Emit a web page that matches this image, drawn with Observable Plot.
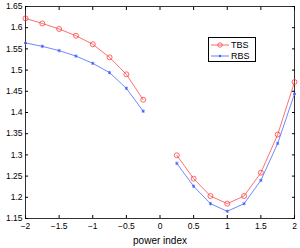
<!DOCTYPE html>
<html>
<head>
<meta charset="utf-8">
<script src="https://cdn.jsdelivr.net/npm/d3@7"></script>
<script src="https://cdn.jsdelivr.net/npm/@observablehq/plot@0.6"></script>
<style>
  body { margin: 0; background: #fff; }
  #wrap { position: relative; width: 300px; height: 248px; font-family: "Liberation Sans", Arial, sans-serif; }
  #legend { position: absolute; left: 208px; top: 37px; width: 48px; height: 25px; border: 1px solid #000; background: #fff; box-sizing: border-box; font-size: 9px; padding-top: 1px; }
  #legend div { display: flex; align-items: center; height: 11px; padding-left: 2px; }
  #legend svg { margin-right: 2px; }
</style>
</head>
<body>
<div id="wrap"></div>
<script>
const powerIndexLeft = [-2, -1.75, -1.5, -1.25, -1, -0.75, -0.5, -0.25];
const tbsLeft = [1.622, 1.610, 1.597, 1.581, 1.561, 1.530, 1.490, 1.430];
const rbsLeft = [1.564, 1.556, 1.546, 1.533, 1.516, 1.494, 1.457, 1.403];
const powerIndexRight = [0.25, 0.5, 0.75, 1, 1.25, 1.5, 1.75, 2];
const tbsRight = [1.299, 1.244, 1.203, 1.185, 1.203, 1.258, 1.348, 1.472];
const rbsRight = [1.280, 1.226, 1.185, 1.167, 1.185, 1.240, 1.327, 1.444];
const xTicks = [-2, -1.5, -1, -0.5, 0, 0.5, 1, 1.5, 2];
const yTicks = [1.15, 1.2, 1.25, 1.3, 1.35, 1.4, 1.45, 1.5, 1.55, 1.6, 1.65];
const seriesNames = ["TBS", "RBS"];
const seriesColors = ["#ff4040", "#4060ff"];

const rows = (xs, ys, seg) => xs.map((x, i) => ({x, y: ys[i], seg}));
const tbs = [...rows(powerIndexLeft, tbsLeft, "L"), ...rows(powerIndexRight, tbsRight, "R")];
const rbs = [...rows(powerIndexLeft, rbsLeft, "L"), ...rows(powerIndexRight, rbsRight, "R")];

const fmt = d => String(d).replace("-", "\u2212");
const blank = () => "";

const chart = Plot.plot({
  width: 300,
  height: 248,
  marginLeft: 25,
  marginRight: 6,
  marginTop: 6,
  marginBottom: 30,
  style: {fontFamily: "Liberation Sans, Arial, sans-serif", fontSize: "8.5px", color: "#000", background: "#fff"},
  x: {domain: [-2, 2]},
  y: {domain: [1.15, 1.65]},
  marks: [
    Plot.frame({stroke: "#000", strokeWidth: 0.8}),
    Plot.axisX(xTicks, {anchor: "bottom", tickSize: -3, tickPadding: 7, tickFormat: fmt, label: null}),
    Plot.axisX(xTicks, {anchor: "bottom", tickSize: 0, tickFormat: blank, label: "power index", labelAnchor: "center", labelOffset: 25, labelArrow: "none", fontSize: 10}),
    Plot.axisX(xTicks, {anchor: "top", tickSize: -3, tickFormat: blank, label: null}),
    Plot.axisY(yTicks, {anchor: "left", tickSize: -3, tickPadding: 6, tickFormat: fmt, label: null}),
    Plot.axisY(yTicks, {anchor: "right", tickSize: -3, tickFormat: blank, label: null}),
    Plot.line(tbs, {x: "x", y: "y", z: "seg", stroke: seriesColors[0], strokeWidth: 0.75}),
    Plot.dot(tbs, {x: "x", y: "y", r: 2.5, stroke: seriesColors[0], strokeWidth: 0.8, fill: "none"}),
    Plot.line(rbs, {x: "x", y: "y", z: "seg", stroke: seriesColors[1], strokeWidth: 0.75}),
    Plot.dot(rbs, {x: "x", y: "y", r: 1.6, symbol: "asterisk", stroke: seriesColors[1], strokeWidth: 0.9})
  ]
});

const wrap = document.getElementById("wrap");
wrap.appendChild(chart);

const legend = document.createElement("div");
legend.id = "legend";
seriesNames.forEach((name, i) => {
  const row = document.createElement("div");
  const mk = i === 0
    ? `<circle cx="9" cy="4" r="2.2" fill="none" stroke="${seriesColors[i]}" stroke-width="0.8"/>`
    : `<circle cx="9" cy="4" r="1.2" fill="${seriesColors[i]}"/>`;
  row.innerHTML = `<svg width="18" height="8"><line x1="0" x2="18" y1="4" y2="4" stroke="${seriesColors[i]}" stroke-width="0.8"/>${mk}</svg><span>${name}</span>`;
  legend.appendChild(row);
});
wrap.appendChild(legend);
</script>
</body>
</html>
